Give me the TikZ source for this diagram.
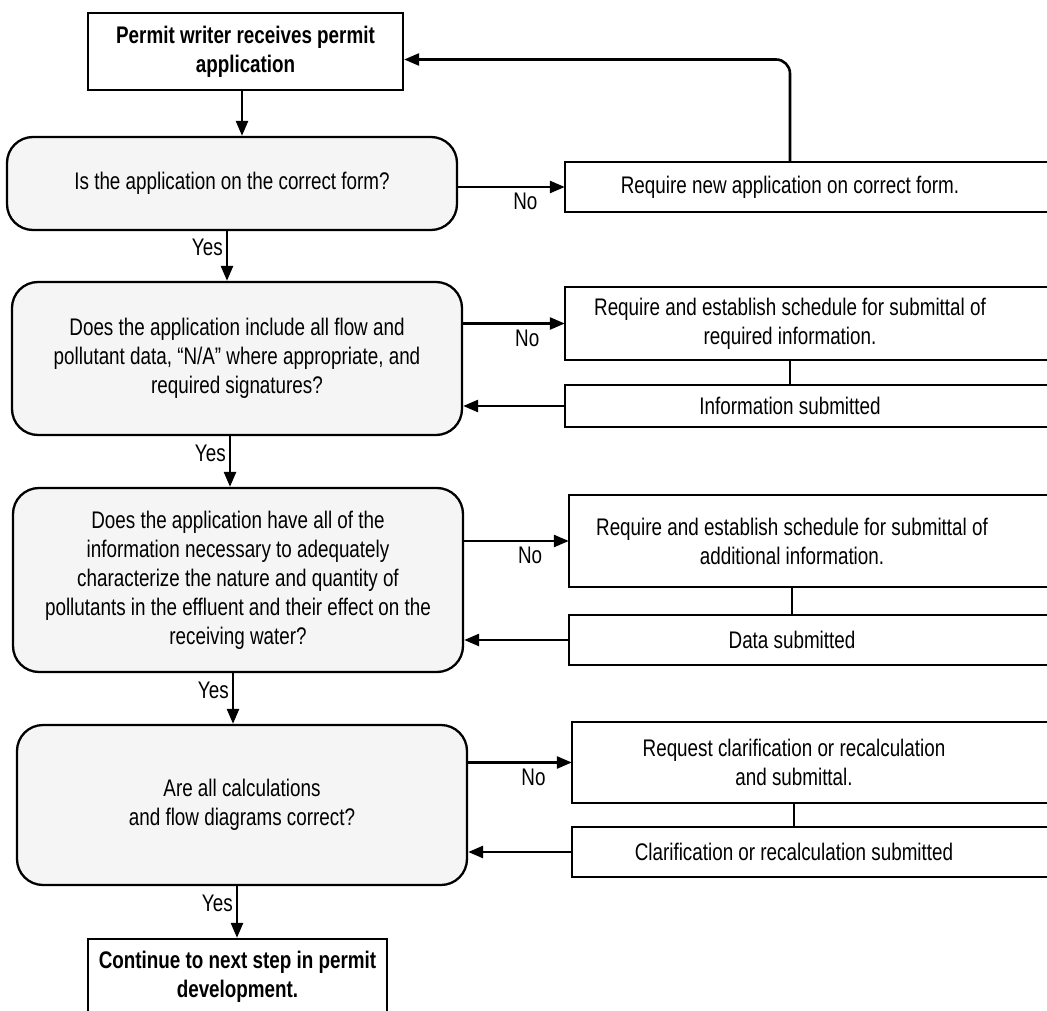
\documentclass[tikz,border=0pt]{standalone}
\usepackage{fontspec}
\setmainfont{Liberation Sans}[FakeStretch=0.785]
\usetikzlibrary{arrows.meta}
\begin{document}
\begin{tikzpicture}[x=1pt,y=-1pt,
  font=\fontsize{24}{29}\selectfont,
  every node/.style={inner sep=0pt, align=center},
  termbox/.style={draw, line width=2.3pt, font=\bfseries\fontsize{24}{29}\selectfont},
  decision/.style={draw, line width=2.3pt, rounded corners=26pt, fill=black!4, minimum width=450pt},
  openbox/.style={minimum width=#1},
  boxline/.style={line width=2.3pt},
  arr/.style={line width=2.6pt, -{Triangle[length=15pt,width=12pt]}},
  link/.style={line width=2.6pt}
]
\fill[white] (0,0) rectangle (1047,1011);
\useasboundingbox (0,0) rectangle (1047,1011);
\clip (0,0) rectangle (1047,1011);

% main column
\node[termbox, minimum width=315pt, minimum height=77pt] (top) at (245.5,51.5)
  {Permit writer receives permit\\application};
\node[decision, minimum height=93pt] (q1) at (232,183.5)
  {Is the application on the correct form?};
\node[decision, minimum height=153pt] (q2) at (237,358.5)
  {Does the application include all flow and\\pollutant data, “N/A” where appropriate, and\\required signatures?};
\node[decision, minimum height=184pt] (q3) at (238,580)
  {Does the application have all of the\\information necessary to adequately\\characterize the nature and quantity of\\pollutants in the effluent and their effect on the\\receiving water?};
\node[decision, minimum height=160pt] (q4) at (242,805)
  {Are all calculations\\and flow diagrams correct?};
\node[termbox, minimum width=299pt, minimum height=76pt] (fin) at (237.5,977)
  {Continue to next step in permit\\development.};

% right column
\node[openbox=450pt, minimum height=50pt] (r1) at (790,187) {Require new application on correct form.};
\node[openbox=450pt, minimum height=73pt] (r2) at (790,323.5) {Require and establish schedule for submittal of\\required information.};
\node[openbox=450pt, minimum height=42pt] (s2) at (790,406) {Information submitted};
\node[openbox=446pt, minimum height=92pt] (r3) at (792,541) {Require and establish schedule for submittal of\\additional information.};
\node[openbox=446pt, minimum height=50pt] (s3) at (792,640) {Data submitted};
\node[openbox=444pt, minimum height=81pt] (r4) at (794,762.5) {Request clarification or recalculation\\and submittal.};
\node[openbox=444pt, minimum height=50pt] (s4) at (794,852) {Clarification or recalculation submitted};

% right-hand boxes run on past the right edge
\foreach \b in {r1,r2,s2,r3,s3,r4,s4}
  \draw[boxline] ([xshift=200pt]\b.north east) -- (\b.north west) -- (\b.south west) -- ([xshift=200pt]\b.south east);

% downward flow
\draw[arr] ([xshift=-3.5pt]top.south) -- ([xshift=-3.5pt]top.south |- q1.north);
\draw[arr] ([xshift=-5pt]q1.south) -- node[pos=0.33, left=3pt]{Yes} ([xshift=-5pt]q1.south |- q2.north);
\draw[arr] ([xshift=-7pt]q2.south) -- node[pos=0.33, left=3pt]{Yes} ([xshift=-7pt]q2.south |- q3.north);
\draw[arr] ([xshift=-5pt]q3.south) -- node[pos=0.33, left=3pt]{Yes} ([xshift=-5pt]q3.south |- q4.north);
\draw[arr] ([xshift=-5pt]q4.south) -- node[pos=0.33, left=3pt]{Yes} ([xshift=-5pt]q4.south |- fin.north);

% "No" branches
\draw[arr] (q1.east |- r1.west) -- node[below=5pt, pos=0.63]{No} (r1.west);
\draw[arr] (q2.east |- r2.west) -- node[below=5pt, pos=0.63]{No} (r2.west);
\draw[arr] (q3.east |- r3.west) -- node[below=5pt, pos=0.63]{No} (r3.west);
\draw[arr] (q4.east |- r4.west) -- node[below=5pt, pos=0.63]{No} (r4.west);

% request to submission links
\draw[link] (r2.south) -- (s2.north);
\draw[link] (r3.south) -- (s3.north);
\draw[link] (r4.south) -- (s4.north);

% returns
\draw[arr] (s2.west) -- (q2.east |- s2.west);
\draw[arr] (s3.west) -- (q3.east |- s3.west);
\draw[arr] (s4.west) -- (q4.east |- s4.west);
\draw[arr, rounded corners=14pt] (r1.north) |- ([yshift=-8pt]top.east);
\end{tikzpicture}
\end{document}
